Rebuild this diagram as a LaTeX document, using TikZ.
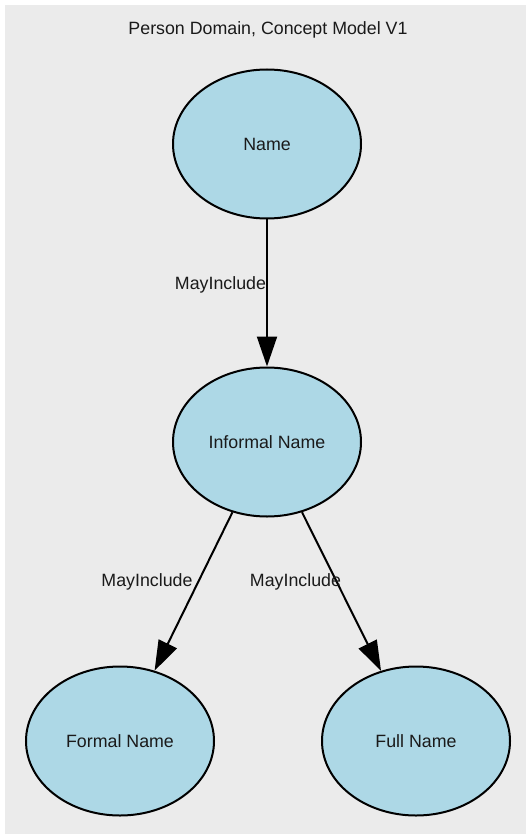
\documentclass[tikz,border=0pt]{standalone}
\usepackage{fontspec}
\setmainfont{Liberation Sans}
\usetikzlibrary{shapes.geometric,arrows.meta}
\definecolor{bggrey}{HTML}{EBEBEB}
\definecolor{nodeblue}{HTML}{ADD8E6}
\definecolor{txt}{HTML}{1A1A1A}
\begin{document}
\begin{tikzpicture}[x=1pt,y=-1pt,
  concept/.style={ellipse,draw=black,line width=2pt,fill=nodeblue,minimum width=188pt,minimum height=149pt,inner sep=0pt,text=txt,font=\fontsize{17.8}{20}\selectfont},
  lbl/.style={text=txt,font=\fontsize{17.8}{20}\selectfont,inner sep=0pt},
  rel/.style={line width=2pt,-{Triangle[length=30pt,width=20pt]}}]
\useasboundingbox (0,0) rectangle (526,834);
\fill[bggrey] (5,5) rectangle (526,834);
\node[lbl] (title) at (268,30) {Person Domain, Concept Model V1};
\node[concept] (name) at (267,144) {Name};
\node[concept] (informal) at (267,442) {Informal Name};
\node[concept] (formal) at (120,741) {Formal Name};
\node[concept] (full) at (416,741) {Full Name};
\draw[rel] (name) -- (informal);
\draw[rel] (informal) -- (formal);
\draw[rel] (informal) -- (full);
\node[lbl] (l1) at (220.5,285) {MayInclude};
\node[lbl] (l2) at (147,582) {MayInclude};
\node[lbl] (l3) at (295.5,582) {MayInclude};
\end{tikzpicture}
\end{document}
